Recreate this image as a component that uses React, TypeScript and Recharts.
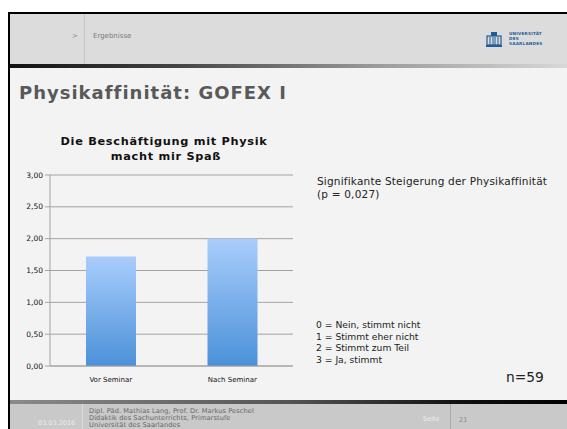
import { Bar, BarChart, CartesianGrid, XAxis, YAxis } from 'recharts'

const categories = ['Vor Seminar', 'Nach Seminar']
const values = [1.72, 2.0]
const yTicks = [0, 0.5, 1, 1.5, 2, 2.5, 3]
const scaleLines = [
  '0 = Nein, stimmt nicht',
  '1 = Stimmt eher nicht',
  '2 = Stimmt zum Teil',
  '3 = Ja, stimmt',
]
const footerLines = [
  'Dipl. Päd. Mathias Lang, Prof. Dr. Markus Peschel',
  'Didaktik des Sachunterrichts, Primarstufe',
  'Universität des Saarlandes',
]

const data = categories.map((name, i) => ({ name, wert: values[i] }))

const FONT = '"DejaVu Sans", Verdana, sans-serif'
const GRID = '#a3a3a3'

// Text helper: y is the vertical centre of the line
function T({
  x,
  y,
  size,
  color = '#222',
  bold = false,
  center = false,
  spacing = 0,
  children,
}: {
  x: number
  y: number
  size: number
  color?: string
  bold?: boolean
  center?: boolean
  spacing?: number
  children: React.ReactNode
}) {
  return (
    <div
      style={{
        position: 'absolute',
        left: x,
        top: y,
        transform: `translate(${center ? '-50%' : '0'}, -50%)`,
        fontSize: size,
        lineHeight: 1,
        fontWeight: bold ? 700 : 400,
        letterSpacing: spacing,
        color,
        whiteSpace: 'nowrap',
        fontFamily: FONT,
      }}
    >
      {children}
    </div>
  )
}

function Logo() {
  return (
    <svg
      width={16}
      height={16}
      viewBox="0 0 16 16"
      style={{ position: 'absolute', left: 486, top: 31 }}
    >
      <rect x="1" y="5" width="14" height="9" fill="none" stroke="#1f5c99" strokeWidth="1.2" />
      <rect x="5" y="1" width="6" height="4" fill="#1f5c99" />
      <line x1="4" y1="6" x2="4" y2="14" stroke="#1f5c99" />
      <line x1="7" y1="6" x2="7" y2="14" stroke="#1f5c99" />
      <line x1="9" y1="6" x2="9" y2="14" stroke="#1f5c99" />
      <line x1="12" y1="6" x2="12" y2="14" stroke="#1f5c99" />
      <rect x="0" y="14" width="16" height="2" fill="#1f5c99" />
    </svg>
  )
}

export default function App() {
  return (
    <div
      style={{
        position: 'absolute',
        left: 0,
        top: 0,
        width: 567,
        height: 429,
        background: '#ffffff',
        overflow: 'hidden',
        fontFamily: FONT,
      }}
    >
      {/* slide frame */}
      <div style={{ position: 'absolute', left: 8, top: 12, width: 559, height: 417, background: '#000' }} />
      {/* header */}
      <div style={{ position: 'absolute', left: 10, top: 14, width: 557, height: 50, background: '#dcdcdc' }} />
      <div style={{ position: 'absolute', left: 84, top: 14, width: 1, height: 50, background: '#c4c4c4' }} />
      <div
        style={{
          position: 'absolute',
          left: 10,
          top: 64,
          width: 557,
          height: 4,
          background: 'linear-gradient(to right, #111 0%, #444 30%, #999 65%, #d8d8d8 100%)',
        }}
      />
      <T x={72} y={36} size={7} color="#8a8a8a">
        &gt;
      </T>
      <T x={93} y={36} size={7} color="#7a7a7a">
        Ergebnisse
      </T>
      <Logo />
      <T x={509} y={34} size={4.2} color="#1f5c99" bold spacing={0.2}>
        UNIVERSITÄT
      </T>
      <T x={509} y={39} size={4.2} color="#1f5c99" bold spacing={0.2}>
        DES
      </T>
      <T x={509} y={44} size={4.2} color="#1f5c99" bold spacing={0.2}>
        SAARLANDES
      </T>

      {/* content */}
      <div style={{ position: 'absolute', left: 10, top: 68, width: 557, height: 332, background: '#f3f3f3' }} />
      <T x={19} y={93} size={18} color="#595959" bold spacing={1}>
        Physikaffinität: GOFEX I
      </T>
      <T x={164} y={142} size={11.3} color="#111" bold center spacing={0.7}>
        Die Beschäftigung mit Physik
      </T>
      <T x={166} y={157} size={11.3} color="#111" bold center spacing={0.7}>
        macht mir Spaß
      </T>

      <div style={{ position: 'absolute', left: 0, top: 130 }}>
        <BarChart
          width={300}
          height={262}
          data={data}
          margin={{ top: 45, right: 7, left: 20, bottom: 0 }}
          barSize={50}
        >
          <defs>
            <linearGradient id="barFill" x1="0" y1="0" x2="0" y2="1">
              <stop offset="0%" stopColor="#a9cdfc" />
              <stop offset="100%" stopColor="#4b91d9" />
            </linearGradient>
          </defs>
          <CartesianGrid stroke={GRID} vertical={false} />
          <XAxis
            xAxisId="sep"
            type="number"
            domain={[0, 2]}
            ticks={[0, 1, 2]}
            tick={false}
            axisLine={false}
            tickLine={{ stroke: GRID }}
            tickSize={3}
            height={0}
          />
          <XAxis
            xAxisId="cat"
            dataKey="name"
            axisLine={{ stroke: GRID }}
            tickLine={false}
            tick={{ fontSize: 7, fill: '#111', fontFamily: FONT }}
            tickMargin={5}
            height={26}
          />
          <YAxis
            domain={[0, 3]}
            ticks={yTicks}
            width={30}
            axisLine={{ stroke: GRID }}
            tickLine={{ stroke: GRID }}
            tickSize={5}
            tick={{ fontSize: 7.5, fill: '#111', fontFamily: FONT }}
            tickFormatter={(v: number) => v.toFixed(2).replace('.', ',')}
            interval={0}
          />
          <Bar dataKey="wert" xAxisId="cat" fill="url(#barFill)" isAnimationActive={false} />
        </BarChart>
      </div>

      <T x={317} y={181} size={10.5} spacing={0.2}>
        Signifikante Steigerung der Physikaffinität
      </T>
      <T x={317} y={194} size={10.5} spacing={0.2}>
        (p = 0,027)
      </T>
      {scaleLines.map((s, i) => (
        <T key={s} x={316} y={325 + i * 11.6} size={9.2}>
          {s}
        </T>
      ))}
      <T x={506} y={378} size={13.8}>
        n=59
      </T>

      {/* footer */}
      <div
        style={{
          position: 'absolute',
          left: 10,
          top: 400,
          width: 557,
          height: 4,
          background: 'linear-gradient(to right, #8a8a8a 0%, #555 50%, #111 80%, #000 100%)',
        }}
      />
      <div style={{ position: 'absolute', left: 10, top: 404, width: 557, height: 25, background: '#c9c9c9' }} />
      <div style={{ position: 'absolute', left: 82, top: 404, width: 1, height: 25, background: '#dcdcdc' }} />
      <div style={{ position: 'absolute', left: 450, top: 404, width: 1, height: 25, background: '#a9a9a9' }} />
      <T x={38} y={423} size={6.5} color="#ececec">
        03.03.2016
      </T>
      {footerLines.map((s, i) => (
        <T key={s} x={89} y={411 + i * 7} size={6.6} color="#666" spacing={0.1}>
          {s}
        </T>
      ))}
      <T x={423} y={419} size={6.5} color="#efefef">
        Seite
      </T>
      <T x={459} y={420} size={6.5} color="#888">
        21
      </T>
    </div>
  )
}
